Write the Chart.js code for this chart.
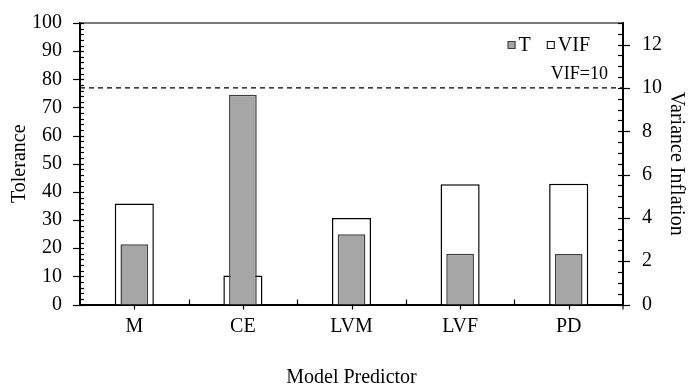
<!DOCTYPE html>
<html>
<head>
<meta charset="utf-8">
<script src="https://cdn.jsdelivr.net/npm/chart.js@4/dist/chart.umd.min.js"></script>
<style>
  html, body { margin: 0; padding: 0; background: #fff; }
  #wrap { width: 688px; height: 392px; }
</style>
</head>
<body>
<div id="wrap"><canvas id="c" width="688" height="392"></canvas></div>
<script>
// Collinearity diagnostics per model predictor
const categories = ['M', 'CE', 'LVM', 'LVF', 'PD'];
const tolerance = [21.4, 74.5, 25.0, 18.0, 17.9];   // T, percent
const vif = [4.67, 1.34, 4.00, 5.55, 5.58];         // variance inflation factor
const vifLimit = 10;                                 // reference threshold
const vifLimitLabel = 'VIF=10';

const SERIF = '"Liberation Serif", "Times New Roman", serif';

// Tick marks, frame line, threshold line and legend drawn on top of the bars
const decor = {
  id: 'decor',
  afterDatasetsDraw(chart) {
    const { ctx, chartArea: a, scales } = chart;
    const yL = scales.y, yR = scales.y1, x = scales.x;
    ctx.save();

    // top frame
    ctx.strokeStyle = '#4d4d4d';
    ctx.lineWidth = 1.5;
    ctx.beginPath();
    ctx.moveTo(a.left, a.top);
    ctx.lineTo(a.right, a.top);
    ctx.stroke();

    // threshold line on the VIF axis
    const yLim = yR.getPixelForValue(vifLimit);
    ctx.strokeStyle = '#000';
    ctx.lineWidth = 1.2;
    ctx.setLineDash([5, 4]);
    ctx.beginPath();
    ctx.moveTo(a.left, yLim);
    ctx.lineTo(a.right, yLim);
    ctx.stroke();
    ctx.setLineDash([]);
    ctx.fillStyle = '#000';
    ctx.font = '18px ' + SERIF;
    ctx.textAlign = 'right';
    ctx.textBaseline = 'alphabetic';
    ctx.fillText(vifLimitLabel, a.right - 15, yLim - 9);

    ctx.lineWidth = 1.2;
    ctx.strokeStyle = '#000';
    // left axis ticks: major every 10 (crossing), minor every 2 (inside)
    for (let v = 0; v <= yL.max + 1e-9; v += 2) {
      const py = Math.round(yL.getPixelForValue(v)) + 0.5;
      const major = v % 10 === 0;
      ctx.beginPath();
      ctx.moveTo(a.left - (major ? 7 : 0), py);
      ctx.lineTo(a.left + 4, py);
      ctx.stroke();
    }
    // right axis ticks: major every 2 (crossing), minor every 0.5 (inside)
    for (let v = 0; v <= yR.max + 1e-9; v += 0.5) {
      const py = Math.round(yR.getPixelForValue(v)) + 0.5;
      const major = v % 2 === 0;
      ctx.beginPath();
      ctx.moveTo(a.right - 5, py);
      ctx.lineTo(a.right + (major ? 7 : 0), py);
      ctx.stroke();
    }
    // category axis: centre ticks outside, boundary ticks inside
    const n = categories.length;
    for (let i = 0; i < n; i++) {
      const px = Math.round(x.getPixelForTick(i)) + 0.5;
      ctx.beginPath();
      ctx.moveTo(px, a.bottom);
      ctx.lineTo(px, a.bottom + 5);
      ctx.stroke();
      if (i < n - 1) {
        const bx = Math.round(x.getPixelForValue(i + 0.5)) + 0.5;
        ctx.beginPath();
        ctx.moveTo(bx, a.bottom - 5);
        ctx.lineTo(bx, a.bottom);
        ctx.stroke();
      }
    }
    ctx.beginPath();
    ctx.moveTo(a.right, a.bottom);
    ctx.lineTo(a.right, a.bottom + 5);
    ctx.stroke();

    // legend, right-aligned near the top of the plot
    ctx.font = '20px ' + SERIF;
    ctx.textAlign = 'left';
    ctx.textBaseline = 'middle';
    const ds = chart.data.datasets;
    const box = 8, gapText = 3, gapItem = 16;
    const widths = ds.map(d => box + gapText + ctx.measureText(d.label).width);
    const total = widths.reduce((s, w) => s + w, 0) + gapItem * (ds.length - 1);
    let lx = a.right - 33 - total;
    const ly = a.top + 22;
    ds.forEach((d, i) => {
      ctx.fillStyle = d.backgroundColor;
      ctx.fillRect(lx, ly - box / 2, box, box);
      ctx.strokeStyle = d.borderColor;
      ctx.lineWidth = 1;
      ctx.strokeRect(lx + 0.5, ly - box / 2 + 0.5, box - 1, box - 1);
      ctx.fillStyle = '#000';
      ctx.fillText(d.label, lx + box + gapText, ly + 1);
      lx += widths[i] + gapItem;
    });

    ctx.restore();
  }
};

new Chart(document.getElementById('c'), {
  type: 'bar',
  data: {
    labels: categories,
    datasets: [
      {
        label: 'T',
        data: tolerance,
        yAxisID: 'y',
        backgroundColor: '#a6a6a6',
        borderColor: '#3f3f3f',
        borderWidth: 1.5,
        barPercentage: 0.255,
        categoryPercentage: 1,
        grouped: false,
        order: 0
      },
      {
        label: 'VIF',
        data: vif,
        yAxisID: 'y1',
        backgroundColor: '#ffffff',
        borderColor: '#000000',
        borderWidth: 1.5,
        barPercentage: 0.36,
        categoryPercentage: 1,
        grouped: false,
        order: 1
      }
    ]
  },
  options: {
    responsive: false,
    animation: false,
    layout: { padding: { top: 10, left: 0, right: 0, bottom: 0 } },
    plugins: {
      legend: { display: false },
      tooltip: { enabled: false }
    },
    scales: {
      x: {
        grid: { display: false },
        border: { display: true, color: '#000', width: 2 },
        ticks: { color: '#000', font: { family: SERIF, size: 20 }, padding: 2 },
        title: {
          display: true, text: 'Model Predictor', color: '#000',
          font: { family: SERIF, size: 20 }, padding: { top: 0, bottom: 2 }
        },
        afterFit(s) { s.height = 87.5; }
      },
      y: {
        position: 'left',
        min: 0, max: 100,
        grid: { display: false },
        border: { display: true, color: '#000', width: 2 },
        ticks: { stepSize: 10, color: '#000', font: { family: SERIF, size: 20 }, padding: 10 },
        title: {
          display: true, text: 'Tolerance', color: '#000',
          font: { family: SERIF, size: 20 }, padding: { top: 8, bottom: 0 }
        },
        afterFit(s) { s.width = 80; }
      },
      y1: {
        position: 'right',
        min: 0, max: 13,
        grid: { display: false },
        border: { display: true, color: '#000', width: 2 },
        ticks: { stepSize: 2, includeBounds: false, color: '#000', font: { family: SERIF, size: 20 }, padding: 11 },
        title: {
          display: true, text: 'Variance Inflation', color: '#000',
          font: { family: SERIF, size: 20 }, padding: { top: 0, bottom: 0 }
        },
        afterFit(s) { s.width = 65; }
      }
    }
  },
  plugins: [decor]
});
</script>
</body>
</html>
